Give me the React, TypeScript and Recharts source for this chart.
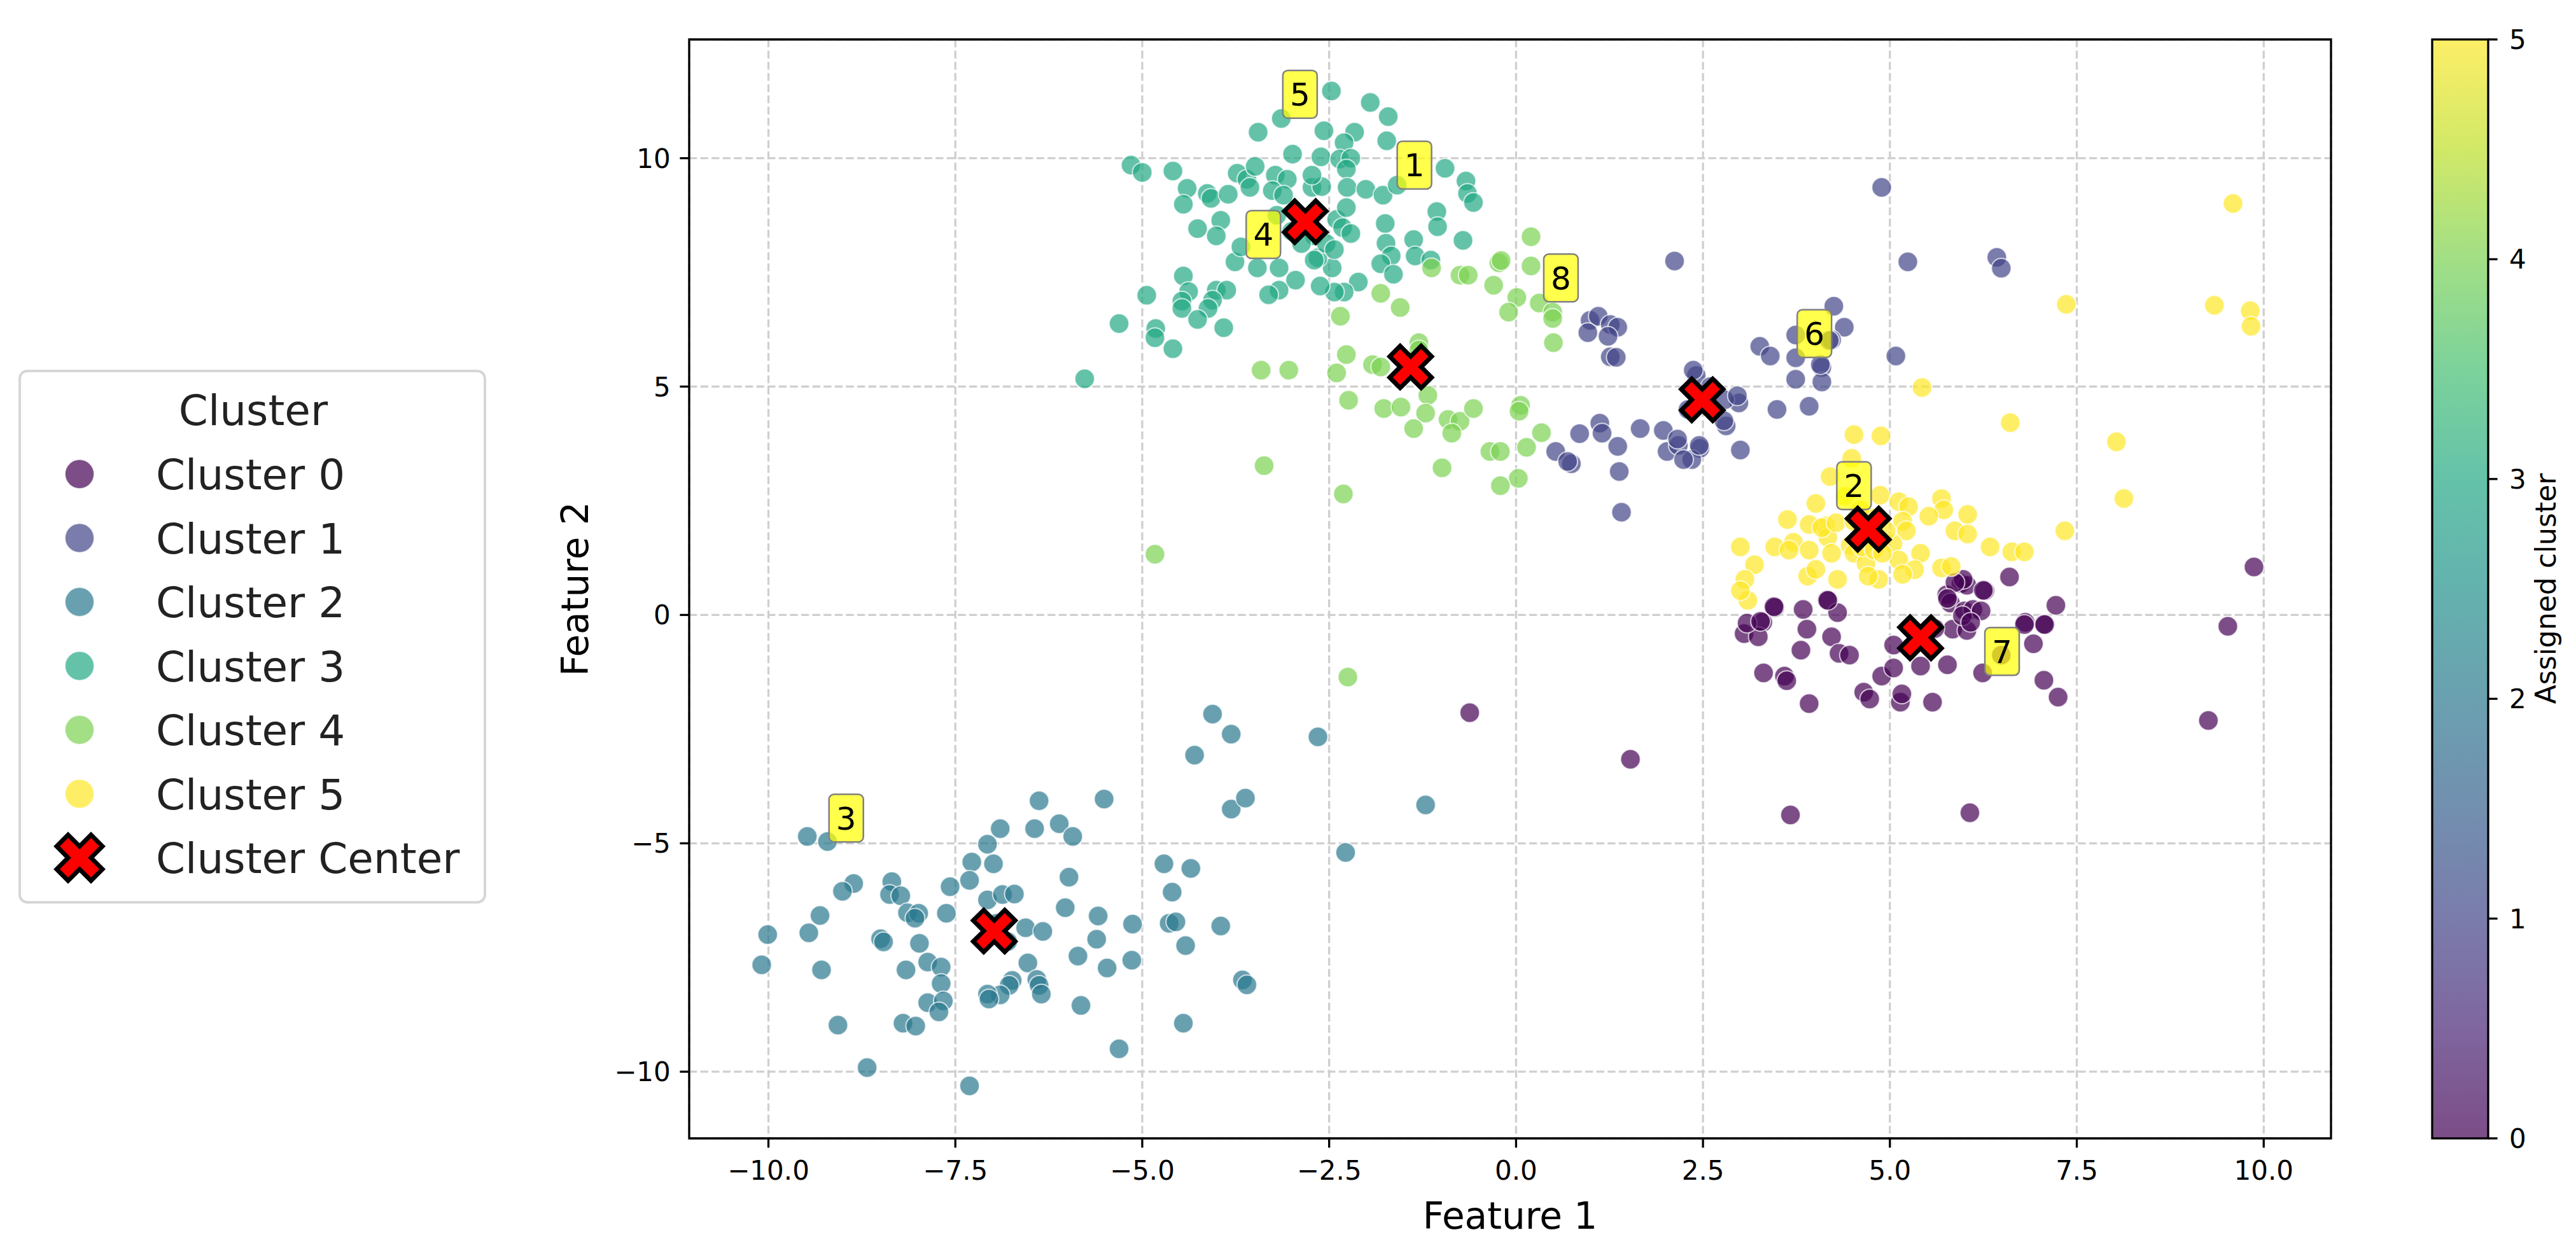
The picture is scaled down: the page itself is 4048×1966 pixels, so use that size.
import { ScatterChart, Scatter, XAxis, YAxis, CartesianGrid, ReferenceArea } from 'recharts';

type Pt = [number, number];

const clusterNames = ['Cluster 0', 'Cluster 1', 'Cluster 2', 'Cluster 3', 'Cluster 4', 'Cluster 5'];
// viridis at 0, .2, .4, .6, .8, 1
const clusterColors = ['#440154', '#414487', '#2a788e', '#22a884', '#7ad151', '#fde725'];

const cluster0: Pt[] = [
  [6.60, 0.83], [7.22, 0.21], [7.06, -0.20], [6.81, -0.16], [6.92, -0.63], [7.06, -1.43], [7.25, -1.80],
  [9.87, 1.05], [9.52, -0.25], [9.26, -2.31], [6.07, -4.33], [3.67, -4.38], [5.95, 0.69], [6.03, 0.65],
  [6.27, 0.53], [5.76, 0.44], [5.81, 0.26], [6.00, 0.09], [6.11, 0.12], [6.22, 0.09], [5.84, -0.31],
  [6.03, -0.34], [5.77, -1.09], [6.24, -1.27], [6.49, -0.88], [5.57, -1.91], [5.14, -1.91], [5.16, -1.73],
  [5.05, -0.66], [5.41, -1.12], [4.89, -1.34], [5.05, -1.16], [4.65, -1.69], [4.73, -1.84], [3.92, -1.94],
  [3.59, -1.34], [3.62, -1.44], [3.31, -1.27], [3.81, -0.77], [3.89, -0.31], [3.84, 0.12], [4.16, 0.33],
  [4.30, 0.05], [4.22, -0.48], [4.32, -0.84], [4.46, -0.88], [3.46, 0.16], [3.30, -0.16], [3.05, -0.41],
  [3.24, -0.48], [4.17, 0.32], [3.45, 0.18], [3.09, -0.18], [3.27, -0.14], [5.98, 0.78], [5.87, 0.71],
  [6.25, 0.54], [5.77, 0.36], [6.80, -0.21], [7.07, -0.21], [5.60, -0.30], [5.97, -0.02], [6.08, -0.16],
  [-0.62, -2.14], [1.53, -3.16],
];

const cluster1: Pt[] = [
  [4.89, 9.36], [5.24, 7.73], [6.43, 7.83], [6.49, 7.59], [5.08, 5.67], [4.25, 6.76], [4.39, 6.30],
  [4.22, 6.02], [3.74, 6.13], [3.26, 5.88], [3.40, 5.67], [3.74, 5.63], [4.09, 5.42], [4.09, 5.10],
  [3.74, 5.16], [3.92, 4.57], [3.49, 4.50], [2.98, 4.64], [2.81, 4.14], [3.00, 3.61], [2.46, 3.65],
  [2.35, 3.40], [2.41, 5.24], [2.79, 4.71], [2.12, 7.75], [0.99, 6.45], [1.10, 6.54], [0.96, 6.18],
  [1.26, 6.36], [1.36, 6.30], [1.23, 6.10], [1.26, 5.65], [1.34, 5.64], [0.53, 3.58], [0.74, 3.31],
  [0.69, 3.36], [0.85, 3.97], [1.12, 4.20], [1.15, 3.98], [1.36, 3.69], [1.38, 3.14], [1.41, 2.25],
  [1.66, 4.08], [1.97, 4.04], [2.02, 3.58], [2.17, 3.71], [2.24, 3.40], [2.45, 3.71], [2.37, 5.36],
  [2.96, 4.80], [2.78, 4.25], [4.07, 5.48], [4.19, 6.01], [2.60, 5.00], [2.30, 4.50], [2.16, 3.85],
];

const cluster2: Pt[] = [
  [-4.06, -2.17], [-3.81, -2.61], [-4.30, -3.07], [-2.65, -2.67], [-5.51, -4.03], [-3.81, -4.25],
  [-3.62, -4.01], [-1.21, -4.16], [-2.28, -5.20], [-3.95, -6.81], [-3.66, -7.99], [-3.60, -8.10],
  [-6.38, -4.07], [-6.44, -4.68], [-6.11, -4.57], [-5.93, -4.85], [-6.90, -4.68], [-7.07, -5.02],
  [-7.28, -5.41], [-6.99, -5.45], [-7.31, -5.81], [-7.57, -5.95], [-7.62, -6.53], [-7.07, -6.24],
  [-6.87, -6.12], [-6.71, -6.11], [-5.98, -5.74], [-6.03, -6.41], [-6.56, -6.85], [-6.33, -6.93],
  [-5.59, -6.59], [-5.61, -7.10], [-5.13, -6.77], [-5.14, -7.56], [-5.47, -7.73], [-5.86, -7.47],
  [-6.53, -7.62], [-6.41, -7.98], [-6.38, -8.11], [-6.35, -8.30], [-6.74, -8.00], [-6.78, -8.11],
  [-6.90, -8.32], [-7.07, -8.30], [-7.05, -8.41], [-5.82, -8.55], [-5.31, -9.50], [-4.71, -5.45],
  [-4.35, -5.55], [-4.60, -6.07], [-4.64, -6.75], [-4.55, -6.72], [-4.42, -7.24], [-4.45, -8.94],
  [-9.48, -4.85], [-9.21, -4.96], [-8.86, -5.88], [-9.01, -6.05], [-9.31, -6.58], [-9.46, -6.96],
  [-10.01, -7.00], [-10.09, -7.66], [-9.29, -7.77], [-8.35, -5.84], [-8.38, -6.12], [-8.23, -6.15],
  [-8.14, -6.52], [-7.99, -6.53], [-8.04, -6.64], [-8.50, -7.09], [-8.46, -7.16], [-7.98, -7.19],
  [-8.16, -7.77], [-7.87, -7.60], [-7.69, -7.71], [-7.69, -8.07], [-7.87, -8.49], [-7.66, -8.45],
  [-7.72, -8.69], [-8.20, -8.94], [-8.03, -9.00], [-9.07, -8.98], [-8.68, -9.91], [-7.31, -10.31],
  [-6.95, -6.75], [-6.80, -7.15],
];

const cluster3: Pt[] = [
  [-2.47, 11.47], [-1.95, 11.22], [-1.71, 10.91], [-3.14, 10.87], [-3.45, 10.57], [-2.57, 10.60],
  [-2.16, 10.57], [-2.30, 10.34], [-1.73, 10.38], [-2.99, 10.09], [-2.61, 10.03], [-2.36, 9.98],
  [-2.21, 10.00], [-2.27, 9.76], [-5.15, 9.85], [-5.00, 9.69], [-4.59, 9.72], [-4.40, 9.34],
  [-4.45, 8.99], [-4.13, 9.23], [-4.08, 9.12], [-3.85, 9.21], [-3.73, 9.67], [-3.60, 9.54],
  [-3.56, 9.36], [-3.49, 9.82], [-3.22, 9.63], [-3.06, 9.54], [-3.26, 9.29], [-3.11, 9.19],
  [-2.73, 9.36], [-2.60, 9.38], [-2.26, 9.36], [-2.01, 9.32], [-1.78, 9.19], [-1.59, 9.41],
  [-0.95, 9.78], [-0.67, 9.50], [-0.65, 9.23], [-0.57, 9.03], [-1.06, 8.83], [-1.05, 8.50],
  [-0.71, 8.20], [-1.37, 8.22], [-1.35, 7.86], [-1.14, 7.77], [-1.75, 8.57], [-1.74, 8.14],
  [-1.67, 7.86], [-1.81, 7.69], [-1.64, 7.46], [-2.11, 7.29], [-2.30, 7.07], [-2.43, 7.07],
  [-2.62, 7.20], [-2.46, 7.60], [-2.65, 7.82], [-2.95, 7.33], [-3.17, 7.11], [-3.31, 7.01],
  [-3.17, 7.60], [-3.46, 7.60], [-3.76, 7.73], [-3.68, 8.06], [-3.95, 8.64], [-4.01, 8.30],
  [-4.26, 8.46], [-4.45, 7.42], [-4.38, 7.08], [-4.01, 7.11], [-3.87, 7.11], [-4.47, 6.87],
  [-4.47, 6.71], [-4.06, 6.89], [-4.12, 6.71], [-4.26, 6.47], [-4.94, 7.00], [-5.31, 6.38],
  [-4.82, 6.27], [-4.83, 6.07], [-4.59, 5.83], [-3.91, 6.29], [-5.77, 5.17], [-2.40, 8.66],
  [-2.32, 8.48], [-2.21, 8.35], [-2.27, 8.92], [-2.70, 8.30], [-2.54, 8.13], [-2.70, 7.77],
  [-2.43, 8.00], [-2.87, 8.13], [-2.73, 9.63], [-3.00, 8.40], [-3.20, 8.75],
];

const cluster4: Pt[] = [
  [0.20, 8.28], [-0.23, 7.71], [-0.20, 7.76], [0.20, 7.64], [-0.75, 7.44], [-0.64, 7.44], [-1.13, 7.60],
  [-0.30, 7.22], [0.01, 6.95], [-0.10, 6.63], [0.31, 6.83], [0.49, 6.63], [0.49, 6.49], [0.50, 5.96],
  [-1.81, 7.04], [-1.55, 6.73], [-2.35, 6.54], [-2.27, 5.70], [-2.40, 5.30], [-3.41, 5.36], [-3.04, 5.36],
  [-1.92, 5.48], [-1.81, 5.43], [-1.30, 5.96], [-2.24, 4.70], [-1.77, 4.52], [-1.54, 4.55], [-1.18, 4.81],
  [-1.21, 4.42], [-1.37, 4.08], [-0.91, 4.28], [-0.75, 4.24], [-0.86, 3.98], [-0.57, 4.52], [0.06, 4.59],
  [0.04, 4.46], [0.34, 3.99], [0.14, 3.67], [-0.35, 3.58], [-0.21, 3.58], [0.03, 2.99], [-0.21, 2.83],
  [-0.99, 3.22], [-3.37, 3.27], [-2.31, 2.65], [-4.83, 1.33], [-2.25, -1.36], [-1.30, 5.80],
];

const cluster5: Pt[] = [
  [9.59, 9.01], [7.36, 6.80], [9.34, 6.78], [9.82, 6.66], [9.83, 6.32], [5.43, 4.98], [6.61, 4.21],
  [8.03, 3.79], [8.13, 2.55], [7.34, 1.84], [4.52, 3.95], [4.88, 3.92], [4.49, 3.43], [4.20, 3.03],
  [4.01, 2.44], [3.63, 2.09], [3.00, 1.49], [3.46, 1.49], [3.71, 1.59], [3.19, 1.10], [3.06, 0.78],
  [3.10, 0.32], [3.90, 0.85], [4.01, 1.00], [4.30, 0.78], [4.14, 1.95], [4.17, 1.70], [4.47, 1.52],
  [4.52, 1.35], [4.68, 1.13], [4.85, 0.78], [4.87, 2.62], [5.12, 2.48], [5.25, 2.37], [5.17, 2.05],
  [5.22, 1.84], [5.04, 1.56], [5.12, 1.20], [5.41, 1.35], [5.33, 0.99], [5.17, 0.89], [5.69, 2.55],
  [5.72, 2.30], [5.52, 2.16], [5.87, 1.84], [6.04, 1.77], [6.04, 2.20], [6.34, 1.49], [6.63, 1.38],
  [6.80, 1.38], [5.69, 1.03], [5.82, 1.06], [3.92, 1.98], [4.09, 1.91], [3.65, 1.42], [3.92, 1.42],
  [4.22, 1.35], [4.63, 1.49], [4.79, 1.42], [4.90, 1.35], [4.71, 0.85], [3.00, 0.53], [4.28, 2.02],
  [4.52, 2.05], [4.76, 2.12], [4.95, 1.84], [4.60, 2.30], [4.40, 2.60],
];

const clusters = [cluster0, cluster1, cluster2, cluster3, cluster4, cluster5];

const centers: Pt[] = [[5.41, -0.50], [2.49, 4.71], [-6.98, -6.92], [-2.82, 8.61], [-1.41, 5.43], [4.71, 1.88]];

const noteTexts = ['1', '2', '3', '4', '5', '6', '7', '8'];
const notePos: Pt[] = [
  [-1.36, 9.85], [4.52, 2.83], [-8.96, -4.45], [-3.38, 8.33],
  [-2.89, 11.40], [3.99, 6.16], [6.50, -0.80], [0.60, 7.38],
];

const xTicks = [-10, -7.5, -5, -2.5, 0, 2.5, 5, 7.5, 10];
const yTicks = [-10, -5, 0, 5, 10];
const cbTicks = [0, 1, 2, 3, 4, 5];

const xDomain: Pt = [-11.06, 10.9];
const yDomain: Pt = [-11.46, 12.6];

const FONT = '"DejaVu Sans", sans-serif';
const viridis = ['#440154', '#482475', '#414487', '#355f8d', '#2a788e', '#21918c', '#22a884', '#44bf70', '#7ad151', '#bddf26', '#fde725'];

const toRows = (pts: Pt[]) => pts.map(([x, y]) => ({ x, y }));
const minus = (s: string) => s.replace('-', '\u2212');

const xPath = (cx: number, cy: number, k: number) => {
  const v = [[-1, -2], [0, -1], [1, -2], [2, -1], [1, 0], [2, 1], [1, 2], [0, 1], [-1, 2], [-2, 1], [-1, 0], [-2, -1]];
  return 'M' + v.map(([a, b]) => `${cx + a * k},${cy + b * k}`).join('L') + 'Z';
};

const XTick = (props: any) => {
  const { x, y, payload } = props;
  return (
    <text x={x} y={y} dy={36} textAnchor="middle" fontSize={42} fontFamily={FONT} fill="#000">
      {minus(payload.value.toFixed(1))}
    </text>
  );
};

const YTick = (props: any) => {
  const { x, y, payload } = props;
  return (
    <text x={x} y={y} dy={15} textAnchor="end" fontSize={42} fontFamily={FONT} fill="#000">
      {minus(String(payload.value))}
    </text>
  );
};

function App() {
  const plotTop = 62;
  const plotBottom = 1789;
  const cbLeft = 3822;
  const cbRight = 3910;
  const cbY = (v: number) => plotBottom - (v / 5) * (plotBottom - plotTop);

  return (
    <div style={{ position: 'absolute', left: 0, top: 0, width: 4048, height: 1966, background: '#fff' }}>
      <ScatterChart width={4048} height={1966} margin={{ top: 62, right: 385, bottom: 77, left: 983 }}>
        <CartesianGrid stroke="#cfcfcf" strokeWidth={3.3} strokeDasharray="12.3 5.3" />
        <XAxis
          type="number"
          dataKey="x"
          domain={xDomain}
          ticks={xTicks}
          allowDataOverflow
          height={100}
          axisLine={false}
          tickSize={14.6}
          tickMargin={14.6}
          tickLine={{ stroke: '#000', strokeWidth: 3.3 }}
          tick={<XTick />}
          label={(p: any) => (
            <text x={p.viewBox.x + p.viewBox.width / 2} y={p.viewBox.y + 142} textAnchor="middle" fontSize={58} fontFamily={FONT} fill="#000">
              Feature 1
            </text>
          )}
        />
        <YAxis
          type="number"
          dataKey="y"
          domain={yDomain}
          ticks={yTicks}
          allowDataOverflow
          width={100}
          axisLine={false}
          tickSize={14.6}
          tickMargin={14.6}
          tickLine={{ stroke: '#000', strokeWidth: 3.3 }}
          tick={<YTick />}
          label={(p: any) => {
            const lx = p.viewBox.x + p.viewBox.width - 159;
            const ly = p.viewBox.y + p.viewBox.height / 2;
            return (
              <text x={lx} y={ly} transform={`rotate(-90 ${lx} ${ly})`} textAnchor="middle" fontSize={58} fontFamily={FONT} fill="#000">
                Feature 2
              </text>
            );
          }}
        />
        {clusters.map((pts, i) => (
          <Scatter
            key={clusterNames[i]}
            name={clusterNames[i]}
            data={toRows(pts)}
            isAnimationActive={false}
            shape={(p: any) => (
              <circle cx={p.cx} cy={p.cy} r={15.5} fill={clusterColors[i]} fillOpacity={0.7} stroke="#fff" strokeOpacity={0.7} strokeWidth={2} />
            )}
          />
        ))}
        <Scatter
          name="notes"
          data={notePos.map(([x, y], i) => ({ x, y, t: noteTexts[i] }))}
          isAnimationActive={false}
          shape={(p: any) => (
            <g>
              <rect x={p.cx - 27} y={p.cy - 37.5} width={54} height={75} rx={8} fill="#ffff00" fillOpacity={0.7} stroke="#808080" strokeWidth={2.5} />
              <text x={p.cx} y={p.cy + 18} textAnchor="middle" fontSize={50} fontFamily={FONT} fill="#000">
                {p.payload.t}
              </text>
            </g>
          )}
        />
        <Scatter
          name="Cluster Center"
          data={toRows(centers)}
          isAnimationActive={false}
          shape={(p: any) => <path d={xPath(p.cx, p.cy, 16.5)} fill="#ff0000" stroke="#000" strokeWidth={7} strokeLinejoin="miter" />}
        />
        <ReferenceArea x1={xDomain[0]} x2={xDomain[1]} y1={yDomain[0]} y2={yDomain[1]} fill="none" stroke="#000" strokeWidth={3.3} ifOverflow="visible" />
      </ScatterChart>

      <svg width={4048} height={1966} style={{ position: 'absolute', left: 0, top: 0, pointerEvents: 'none' }}>
        <defs>
          <linearGradient id="viridis" x1="0" y1="1" x2="0" y2="0">
            {viridis.map((c, i) => (
              <stop key={i} offset={i / (viridis.length - 1)} stopColor={c} stopOpacity={0.7} />
            ))}
          </linearGradient>
        </defs>

        {/* legend */}
        <rect x={31} y={583} width={731} height={835} rx={12} fill="#fff" stroke="#d6d6d6" strokeWidth={4} />
        <text x={398} y={668} textAnchor="middle" fontSize={66} fontFamily={FONT} fill="#222">Cluster</text>
        {clusterNames.map((n, i) => {
          const cy = 745 + i * 100.5;
          return (
            <g key={n}>
              <circle cx={125} cy={cy} r={23} fill={clusterColors[i]} fillOpacity={0.7} stroke="#fff" strokeOpacity={0.7} strokeWidth={2} />
              <text x={245} y={cy + 24} fontSize={66} fontFamily={FONT} fill="#222">{n}</text>
            </g>
          );
        })}
        <path d={xPath(125, 1348, 18)} fill="#ff0000" stroke="#000" strokeWidth={7} />
        <text x={245} y={1372} fontSize={66} fontFamily={FONT} fill="#222">Cluster Center</text>

        {/* colorbar */}
        <rect x={cbLeft} y={plotTop} width={cbRight - cbLeft} height={plotBottom - plotTop} fill="#fff" />
        <rect x={cbLeft} y={plotTop} width={cbRight - cbLeft} height={plotBottom - plotTop} fill="url(#viridis)" stroke="#000" strokeWidth={3.3} />
        {cbTicks.map((t) => (
          <g key={t}>
            <line x1={cbRight} x2={cbRight + 14.6} y1={cbY(t)} y2={cbY(t)} stroke="#000" strokeWidth={3.3} />
            <text x={3943} y={cbY(t) + 15} fontSize={42} fontFamily={FONT} fill="#000">{t}</text>
          </g>
        ))}
        <text x={4016} y={925} transform="rotate(-90 4016 925)" textAnchor="middle" fontSize={44} fontFamily={FONT} fill="#000">
          Assigned cluster
        </text>
      </svg>
    </div>
  );
}

export default App;
